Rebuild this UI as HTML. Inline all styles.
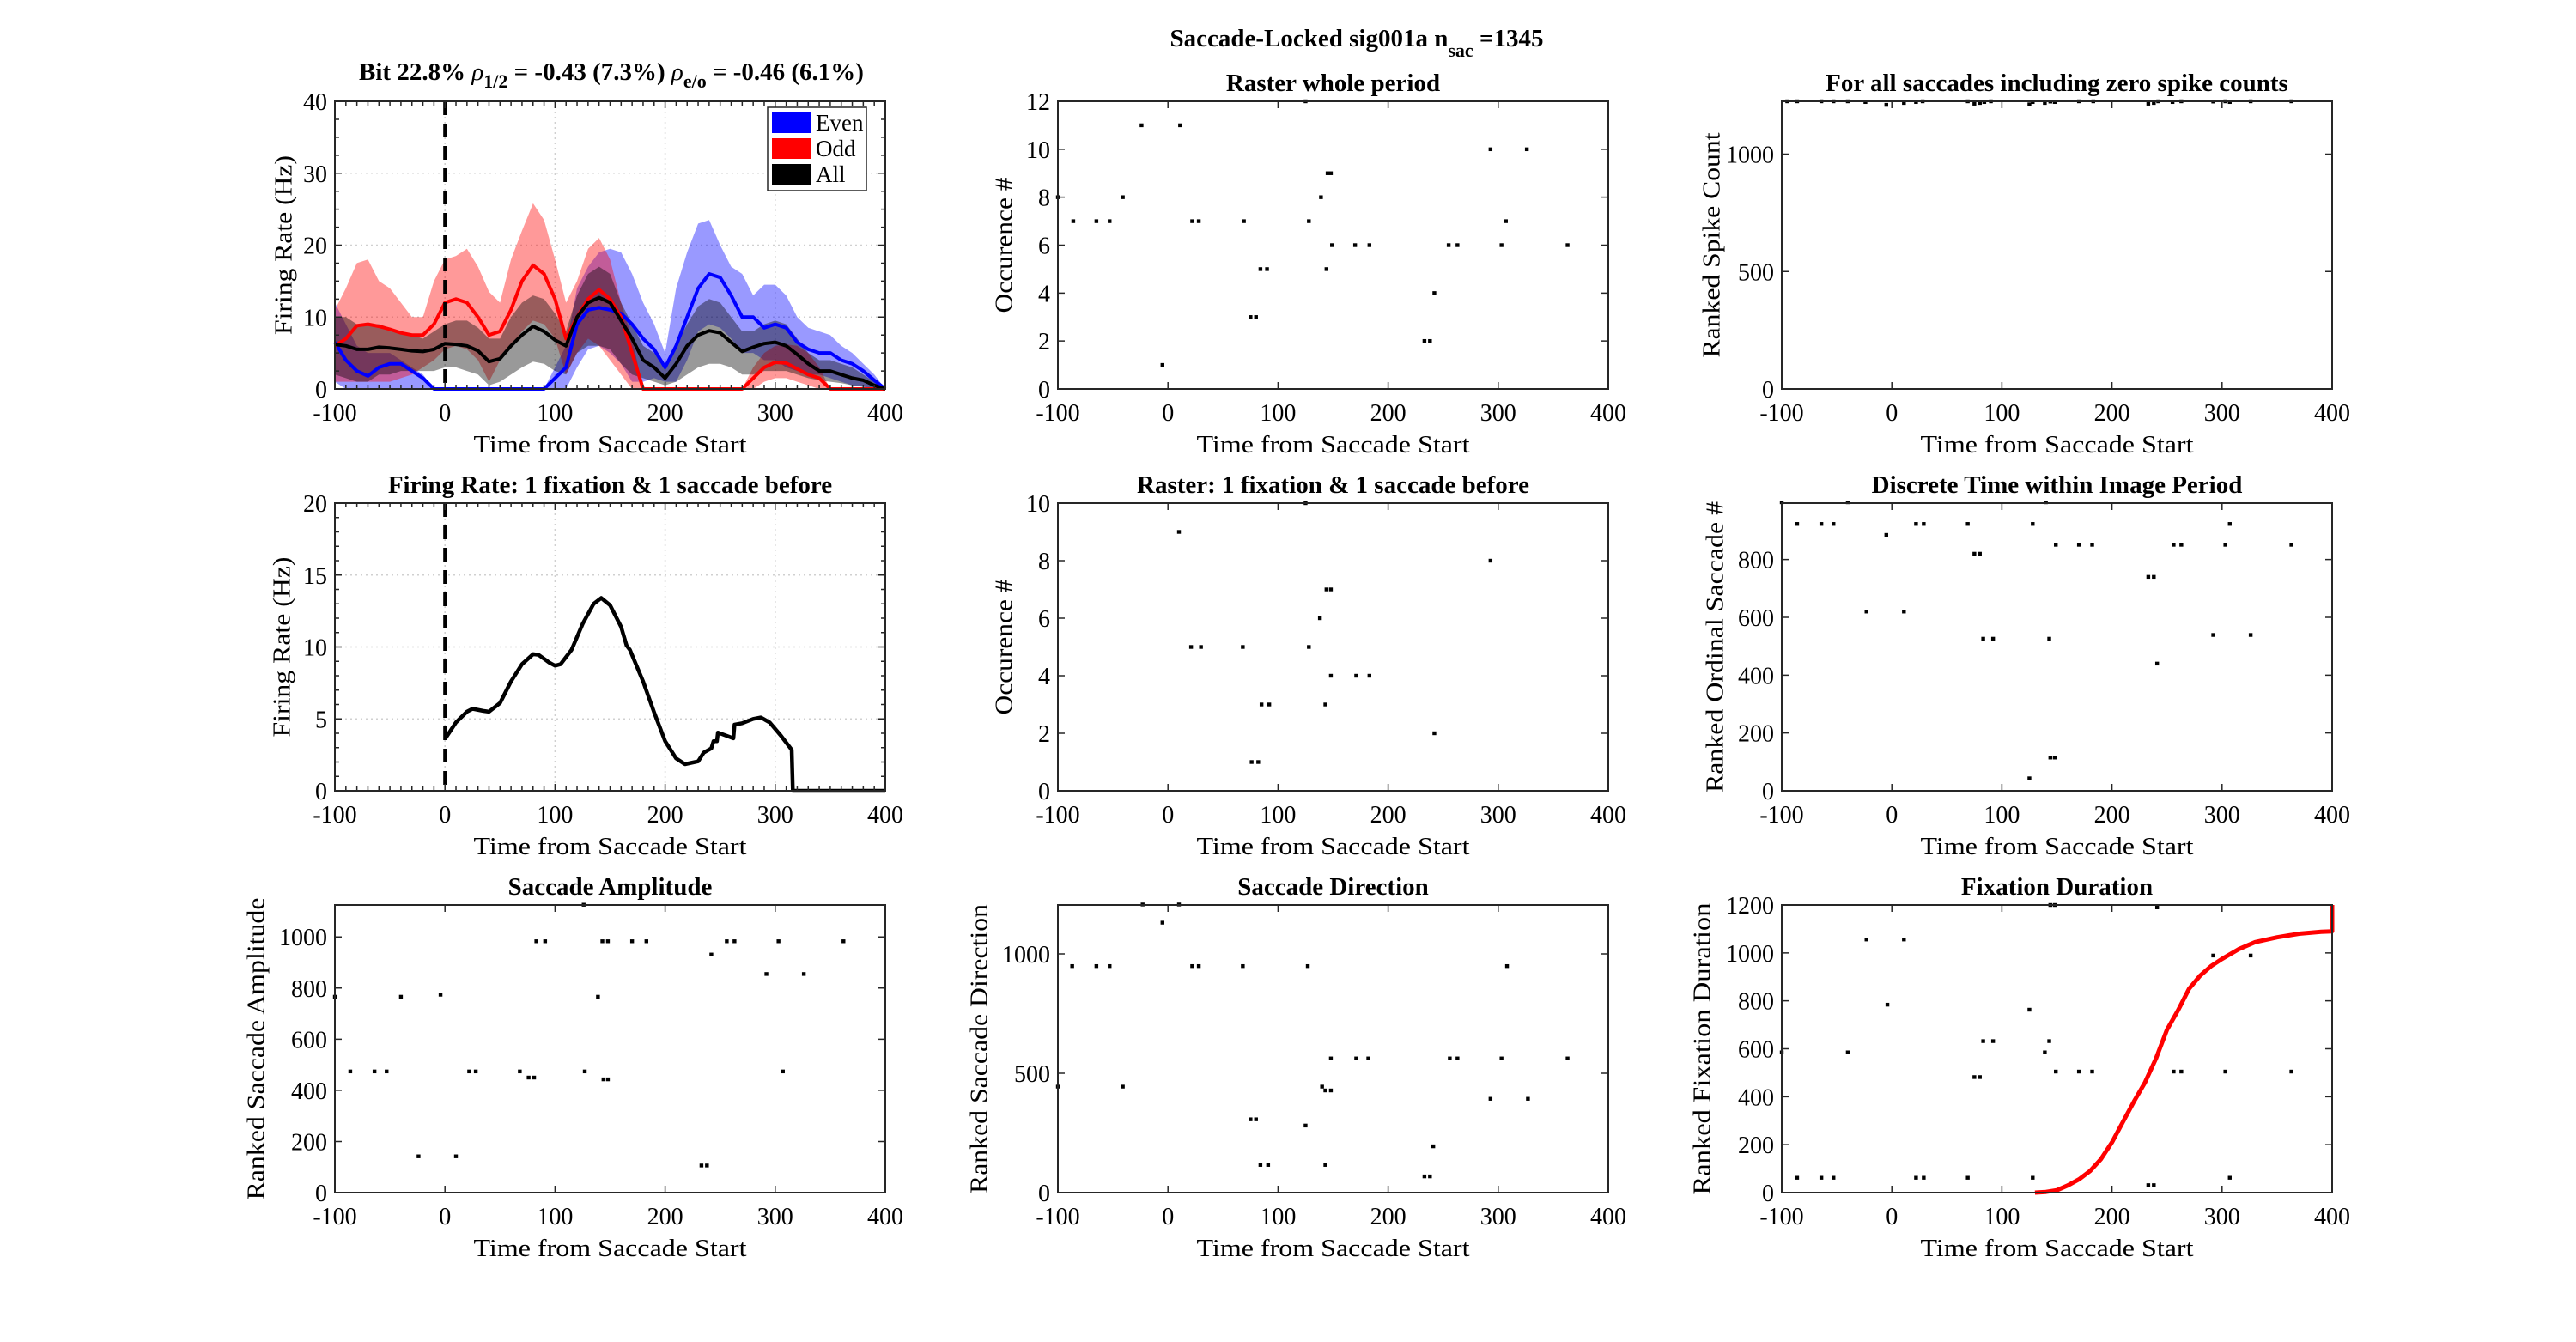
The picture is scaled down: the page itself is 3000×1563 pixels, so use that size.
<!DOCTYPE html>
<html><head><meta charset="utf-8"><style>
html,body{margin:0;padding:0;background:#fff}
svg{display:block}
text{font-family:"Liberation Serif",serif;fill:#000}
</style></head><body>
<svg id="fig" width="3000" height="1563" viewBox="0 0 3000 1563" xmlns="http://www.w3.org/2000/svg">
<rect width="3000" height="1563" fill="#fff"/>
<text x="1580" y="54" text-anchor="middle" font-size="29" font-weight="bold">Saccade-Locked sig001a  n<tspan dy="12" font-size="22">sac</tspan><tspan dy="-12"> =1345</tspan></text>
</svg>
<script>
// ===== Panel 1 data (Even / Odd / All firing rate) =====
const p1Times=[-100,-90,-80,-70,-60,-50,-40,-30,-20,-10,0,10,20,30,40,50,60,70,80,90,100,110,120,130,140,150,160,170,180,190,200,210,220,230,240,250,260,270,280,290,300,310,320,330,340,350,360,370,380,390,400];
const evenMean=[6.5,4,2.5,1.8,3,3.5,3.5,2.5,1.5,0,0,0,0,0,0,0,0,0,0,0,1.5,3,9,11,11.3,11,10.5,9,7,5.5,3,6,10,14,16,15.5,13,10,10,8.5,9,8.5,6.5,5.5,5,5,4,3.5,2.5,1.2,0];
const evenHi=[12,9,6,5,5,5,4,3,2,0,0,0,0,0,0,0,0,0,0,0,3,6,14,17,19,19.5,19,16,12,9,5,14,19,23,23.5,20,17,16,13,14.5,14.5,13,10,8.5,8,7.5,6,5,3.5,2,0];
const evenLo=[1,0,0,0,0,0,0,0,0,0,0,0,0,0,0,0,0,0,0,0,0,0,3,5.5,6,5,3.5,1,1,1.5,1,1,4,8,9,8.5,7,5,5,4,4,3,2.5,2,2,1.5,1,0.5,0.3,0,0];
const oddMean=[6,7,8.8,9,8.7,8.3,7.8,7.5,7.5,9,12,12.5,12,10,7.5,8,11,15,17.2,16,12.5,7,10,12.5,13.8,12.5,10,5,0,0,0,0,0,0,0,0,0,0,1.5,3,3.7,3.6,2.8,2,1.5,0,0,0,0,0,0];
const oddHi=[11,14,17.5,18,15,14,12,10,10,15,18,18.5,19.5,17,13.5,12,18,22,25.8,23.5,18,12,15,19.5,21,18,12,7,0,0,0,0,0,0,0,0,0,0,3,5,6,6.2,6,5,3,0,0,0,0,0,0];
const oddLo=[1,1,1,1,1,1,1.5,2,3,4,5.5,6,5.5,4,1,4,6,8,9.5,9,7,2,5,7,6,4,2,0,0,0,0,0,0,0,0,0,0,0,0,1,1.5,1.5,1,0.5,0,0,0,0,0,0,0];
const allMean=[6.2,6,5.5,5.5,5.8,5.7,5.5,5.3,5.2,5.5,6.3,6.2,6,5.3,3.8,4.2,6,7.5,8.7,8,6.8,6,10,12,12.7,12,9.5,7,4,3,1.5,3.5,6,7.5,8.1,7.8,6.5,5.2,5.8,6.3,6.5,6,4.8,3.5,2.5,2.5,2,1.5,1.2,0.5,0];
const allHi=[10,10,9,9,9,8.5,8,7.5,7,8,9,9.5,9.5,8.5,7,7,10,12,13,12.5,10.5,8,13,16,17,16,12,9,6,5,3,6,9,11.5,12.5,12,10,8,8,9,9.5,9,7,5,4,4,3.5,3,2,1,0];
const allLo=[2,1.5,1,1,2,2,2.5,2.5,2.5,2.5,3,3,2.5,2,0.5,1,2,3,3.8,3.5,2.5,2,5,6,6,5.5,3.5,2,1.5,1,0.5,1,2,3,3.5,3.5,3,2,2,2.5,2.5,2.5,2,1.5,1.2,1,0.8,0.5,0.3,0,0];
// ===== Panel 4 data =====
const p4Times=[0,10,20,25,35,40,50,60,70,80,85,95,100,105,115,125,135,142,150,160,165,168,180,190,200,210,218,230,235,242,244,247,248,262,263,270,280,287,295,305,315,316,400];
const p4Rate=[3.6,4.75,5.5,5.7,5.55,5.5,6.1,7.6,8.8,9.5,9.45,8.9,8.7,8.8,9.8,11.6,13,13.4,12.9,11.4,10.1,9.8,7.6,5.45,3.45,2.25,1.85,2.05,2.65,2.95,3.45,3.45,4.05,3.65,4.6,4.7,5,5.1,4.75,3.85,2.85,0,0];
// ===== Raster whole period =====
const r2T=[125,-24,11,293,326,145,148,-100,-41,139,-86,-65,-53,22,28,69,128,307,149,170,183,255,263,303,363,84,90,144,242,75,80,233,238,-5];
const r2Y=[12,11,11,10,10,9,9,8,8,8,7,7,7,7,7,7,7,7,6,6,6,6,6,6,6,5,5,5,4,3,3,2,2,1];
// ===== Ranked spike count =====
const r3T=[-95,-86,-64,-53,-40,-24,-5,11,22,28,69,75,80,84,90,125,128,139,144,148,170,183,233,238,242,255,263,292,303,307,326,363];
const r3Y=[1225,1225,1225,1225,1225,1222,1210,1218,1222,1225,1225,1215,1218,1222,1225,1212,1222,1218,1224,1222,1225,1225,1215,1218,1225,1222,1225,1224,1225,1222,1225,1225];
// ===== Raster 1 fixation & 1 saccade before =====
const r5T=[125,10,293,144,148,138,21,30,68,128,148,171,183,85,92,143,242,76,82];
const r5Y=[10,9,8,7,7,6,5,5,5,5,4,4,4,3,3,3,2,1,1];
// ===== Discrete time within image period =====
const r6T=[-100,-40,140,-86,-64,-53,22,29,69,128,307,-5,149,170,182,256,263,303,363,75,80,233,238,-23,11,292,326,83,92,143,241,144,148,125];
const r6Y=[998,998,998,923,923,923,923,923,923,923,923,885,851,851,851,851,851,851,851,820,820,740,740,620,620,539,539,526,526,526,440,115,115,43];
// ===== Saccade amplitude =====
const r7T=[126,83,91,143,148,170,183,256,263,303,362,242,292,326,-100,-40,139,-4,-86,-64,-53,22,28,68,127,307,76,81,144,148,-24,10,233,238];
const r7Y=[1126,983,983,983,983,983,983,983,983,983,983,931,855,855,766,766,766,774,474,474,474,474,474,474,474,474,450,450,443,443,142,142,106,106];
// ===== Saccade direction =====
const r8T=[-23,10,-5,-87,-65,-53,22,28,68,127,308,148,171,182,256,263,303,363,-100,-41,140,143,148,293,327,75,80,125,241,84,91,143,233,238];
const r8Y=[1207,1207,1131,949,949,949,949,949,949,949,949,562,562,562,562,562,562,562,444,444,444,428,428,393,393,307,307,281,194,116,116,116,68,68];
// ===== Fixation duration =====
const r9T=[-100,-86,-64,-53,22,29,69,128,307,-23,11,-4,-40,125,83,92,143,139,75,80,149,170,182,256,263,303,363,144,148,241,292,326,233,238];
const r9Y=[585,62,62,62,62,62,62,62,62,1056,1056,784,585,763,632,632,632,585,482,482,505,505,505,505,505,505,505,1200,1200,1190,989,989,31,31];
const fixCurveT=[130,140,150,160,170,180,190,200,210,220,230,240,250,260,270,280,290,300,315,330,350,370,390,400,400];
const fixCurveY=[0,3,10,30,55,90,140,210,295,380,460,560,680,760,850,905,945,975,1015,1045,1065,1080,1088,1090,1200];
// ===== Tick label arrays =====
const xTicks=[-100,0,100,200,300,400];
const p1YTicks=[0,10,20,30,40];
const p2YTicks=[0,2,4,6,8,10,12];
const p3YTicks=[0,500,1000];
const p4YTicks=[0,5,10,15,20];
const p5YTicks=[0,2,4,6,8,10];
const p6YTicks=[0,200,400,600,800];
const p7YTicks=[0,200,400,600,800,1000];
const p8YTicks=[0,500,1000];
const p9YTicks=[0,200,400,600,800,1000,1200];

const NS="http://www.w3.org/2000/svg";
const svg=document.getElementById('fig');
function mk(tag,attrs,parent){const e=document.createElementNS(NS,tag);for(const k in attrs)e.setAttribute(k,attrs[k]);(parent||svg).appendChild(e);return e;}
const COLS=[390,1232,2075],ROWS=[118,586,1054],W=641,H=335;
let clipId=0;
function makeAxes(cfg){
  const L=COLS[cfg.col],T=ROWS[cfg.row];
  const g=mk('g',{});
  
  
  const sx=v=>L+(v+100)/500*W;
  const sy=v=>T+H-(v-cfg.ymin)/(cfg.ymax-cfg.ymin)*H;
  // grid
  if(cfg.grid){
    xTicks.forEach(v=>{const l=mk('line',{x1:sx(v),x2:sx(v),y1:T,y2:T+H,stroke:'#d0d0d0','stroke-width':1.5,'stroke-dasharray':'2 4'},g);
      
      });
    cfg.yTicks.forEach(v=>{const l=mk('line',{x1:L,x2:L+W,y1:sy(v),y2:sy(v),stroke:'#d0d0d0','stroke-width':1.5,'stroke-dasharray':'2 4'},g);
      
      });
  }
  const id='clip'+(clipId++);
  const cp=mk('clipPath',{id:id},g);mk('rect',{x:L-3,y:T-3,width:W+6,height:H+6},cp);
  const plot=mk('g',{'clip-path':'url(#'+id+')'},g);
  
  
  // axes box
  const box=mk('rect',{x:L,y:T,width:W,height:H,fill:'none',stroke:'#262626','stroke-width':2},g);
  
  
  // ticks
  const tk=[];
  xTicks.forEach(v=>{tk.push(`M${sx(v)},${T+H}v-8M${sx(v)},${T}v8`);});
  cfg.yTicks.forEach(v=>{tk.push(`M${L},${sy(v)}h8M${L+W},${sy(v)}h-8`);});
  if(cfg.minor){
    for(let v=-100;v<=400;v+=10){tk.push(`M${sx(v)},${T+H}v-5M${sx(v)},${T}v5`);}
    for(let v=cfg.ymin;v<=cfg.ymax+1e-6;v+=cfg.minor){tk.push(`M${L},${sy(v)}h5M${L+W},${sy(v)}h-5`);}
  }
  const tp=mk('path',{d:tk.join(''),stroke:'#262626','stroke-width':1.5,fill:'none'},g);
  
  
  xTicks.forEach(v=>{const t=mk('text',{x:sx(v),y:T+H+37,'text-anchor':'middle','font-size':28,fill:'#262626'},g);t.textContent=v;
    
    });
  cfg.yTicks.forEach(v=>{const t=mk('text',{x:L-9,y:sy(v)+10,'text-anchor':'end','font-size':28,fill:'#262626'},g);t.textContent=v;
    
    });
  const xl=mk('text',{x:L+W/2,y:T+H+74,'text-anchor':'middle','font-size':28,textLength:318,lengthAdjust:'spacingAndGlyphs'},g);
  xl.textContent='Time from Saccade Start';
  
  
  const yl=mk('text',{x:0,y:0,'text-anchor':'middle','dominant-baseline':'central','font-size':28,textLength:cfg.ylen,lengthAdjust:'spacingAndGlyphs',transform:`translate(${L-cfg.yoff},${T+H/2}) rotate(-90)`},g);
  yl.textContent=cfg.ylabel;
  
  
  if(cfg.title){const tt=mk('text',{x:L+W/2,y:T-12,'text-anchor':'middle','font-size':29,'font-weight':'bold'},g);tt.textContent=cfg.title;
    
    }
  return {g,plot,sx,sy,L,T};
}
function dots(ax,ts,ys,name){
  ts.forEach((t,i)=>{const r=mk('rect',{x:ax.sx(t)-2.2,y:ax.sy(ys[i])-2.2,width:4.4,height:4.4,fill:'#000'},ax.plot);
    
    });
}
function linePath(ax,ts,vs){return ts.map((t,i)=>(i?'L':'M')+ax.sx(t).toFixed(1)+','+ax.sy(vs[i]).toFixed(1)).join('');}
function bandPath(ax,ts,lo,hi){let d=linePath(ax,ts,hi);for(let i=ts.length-1;i>=0;i--)d+='L'+ax.sx(ts[i]).toFixed(1)+','+ax.sy(lo[i]).toFixed(1);return d+'Z';}

// Panel 1
const a1=makeAxes({col:0,row:0,name:'firing-rate-even-odd-panel',ymin:0,ymax:40,yTicks:p1YTicks,grid:true,minor:2.5,ylabel:'Firing Rate (Hz)',yoff:59,ylen:209});
const t1=mk('text',{x:712,y:93,'text-anchor':'middle','font-size':29,'font-weight':'bold'},a1.g);
t1.innerHTML='Bit 22.8% <tspan font-style="italic" font-weight="normal">ρ</tspan><tspan dy="9" font-size="22">1/2</tspan><tspan dy="-9"> = -0.43 (7.3%) </tspan><tspan font-style="italic" font-weight="normal">ρ</tspan><tspan dy="9" font-size="22">e/o</tspan><tspan dy="-9"> = -0.46 (6.1%)</tspan>';


const bE=mk('path',{d:bandPath(a1,p1Times,evenLo,evenHi),fill:'rgba(0,0,255,0.4)'},a1.plot);


const bO=mk('path',{d:bandPath(a1,p1Times,oddLo,oddHi),fill:'rgba(255,0,0,0.4)'},a1.plot);


const bA=mk('path',{d:bandPath(a1,p1Times,allLo,allHi),fill:'rgba(0,0,0,0.4)'},a1.plot);


const lE=mk('path',{d:linePath(a1,p1Times,evenMean),fill:'none',stroke:'#0000ff','stroke-width':4,'stroke-linejoin':'round'},a1.plot);


const lO=mk('path',{d:linePath(a1,p1Times,oddMean),fill:'none',stroke:'#ff0000','stroke-width':4,'stroke-linejoin':'round'},a1.plot);


const lA=mk('path',{d:linePath(a1,p1Times,allMean),fill:'none',stroke:'#000','stroke-width':4,'stroke-linejoin':'round'},a1.plot);


const d1=mk('line',{x1:a1.sx(0),x2:a1.sx(0),y1:a1.T,y2:a1.T+H,stroke:'#000','stroke-width':4,'stroke-dasharray':'16 10'},a1.plot);


// legend
const lg=mk('g',{},a1.g);


mk('rect',{x:894,y:125,width:115,height:97,fill:'#fff',stroke:'#262626','stroke-width':1.5},lg);
[['Even','#0000ff'],['Odd','#ff0000'],['All','#000']].forEach((e,i)=>{
  const sw=mk('rect',{x:899,y:131+i*30,width:46,height:24,fill:e[1]},lg);
  
  
  const tx=mk('text',{x:950,y:152+i*30,'font-size':27,fill:'#262626'},lg);tx.textContent=e[0];
  
  
});

// Panel 2
const a2=makeAxes({col:1,row:0,name:'raster-whole-period-panel',ymin:0,ymax:12,yTicks:p2YTicks,title:'Raster whole period',ylabel:'Occurence #',yoff:62,ylen:158});
dots(a2,r2T,r2Y,'spike-dot');
// Panel 3
const a3=makeAxes({col:2,row:0,name:'ranked-spike-count-panel',ymin:0,ymax:1225,yTicks:p3YTicks,title:'For all saccades including zero spike counts',ylabel:'Ranked Spike Count',yoff:81,ylen:262});
dots(a3,r3T,r3Y,'spike-dot');
// Panel 4
const a4=makeAxes({col:0,row:1,name:'firing-rate-fixation-panel',ymin:0,ymax:20,yTicks:p4YTicks,grid:true,minor:1,title:'Firing Rate: 1 fixation & 1 saccade before',ylabel:'Firing Rate (Hz)',yoff:61,ylen:210});
const l4=mk('path',{d:linePath(a4,p4Times,p4Rate),fill:'none',stroke:'#000','stroke-width':4.5,'stroke-linejoin':'round'},a4.plot);


const d4=mk('line',{x1:a4.sx(0),x2:a4.sx(0),y1:a4.T,y2:a4.T+H,stroke:'#000','stroke-width':4,'stroke-dasharray':'16 10'},a4.plot);


// Panel 5
const a5=makeAxes({col:1,row:1,name:'raster-fixation-panel',ymin:0,ymax:10,yTicks:p5YTicks,title:'Raster: 1 fixation & 1 saccade before',ylabel:'Occurence #',yoff:62,ylen:158});
dots(a5,r5T,r5Y,'spike-dot');
// Panel 6
const a6=makeAxes({col:2,row:1,name:'discrete-time-panel',ymin:0,ymax:995,yTicks:p6YTicks,title:'Discrete Time within Image Period',ylabel:'Ranked Ordinal Saccade #',yoff:77,ylen:339});
dots(a6,r6T,r6Y,'spike-dot');
// Panel 7
const a7=makeAxes({col:0,row:2,name:'saccade-amplitude-panel',ymin:0,ymax:1125,yTicks:p7YTicks,title:'Saccade Amplitude',ylabel:'Ranked Saccade Amplitude',yoff:91,ylen:352});
dots(a7,r7T,r7Y,'spike-dot');
// Panel 8
const a8=makeAxes({col:1,row:2,name:'saccade-direction-panel',ymin:0,ymax:1205,yTicks:p8YTicks,title:'Saccade Direction',ylabel:'Ranked Saccade Direction',yoff:91,ylen:337});
dots(a8,r8T,r8Y,'spike-dot');
// Panel 9
const a9=makeAxes({col:2,row:2,name:'fixation-duration-panel',ymin:0,ymax:1200,yTicks:p9YTicks,title:'Fixation Duration',ylabel:'Ranked Fixation Duration',yoff:92,ylen:340});
const c9=mk('path',{d:linePath(a9,fixCurveT,fixCurveY),fill:'none',stroke:'#ff0000','stroke-width':5,'stroke-linejoin':'round'},a9.plot);


dots(a9,r9T,r9Y,'spike-dot');
</script>
</body></html>
